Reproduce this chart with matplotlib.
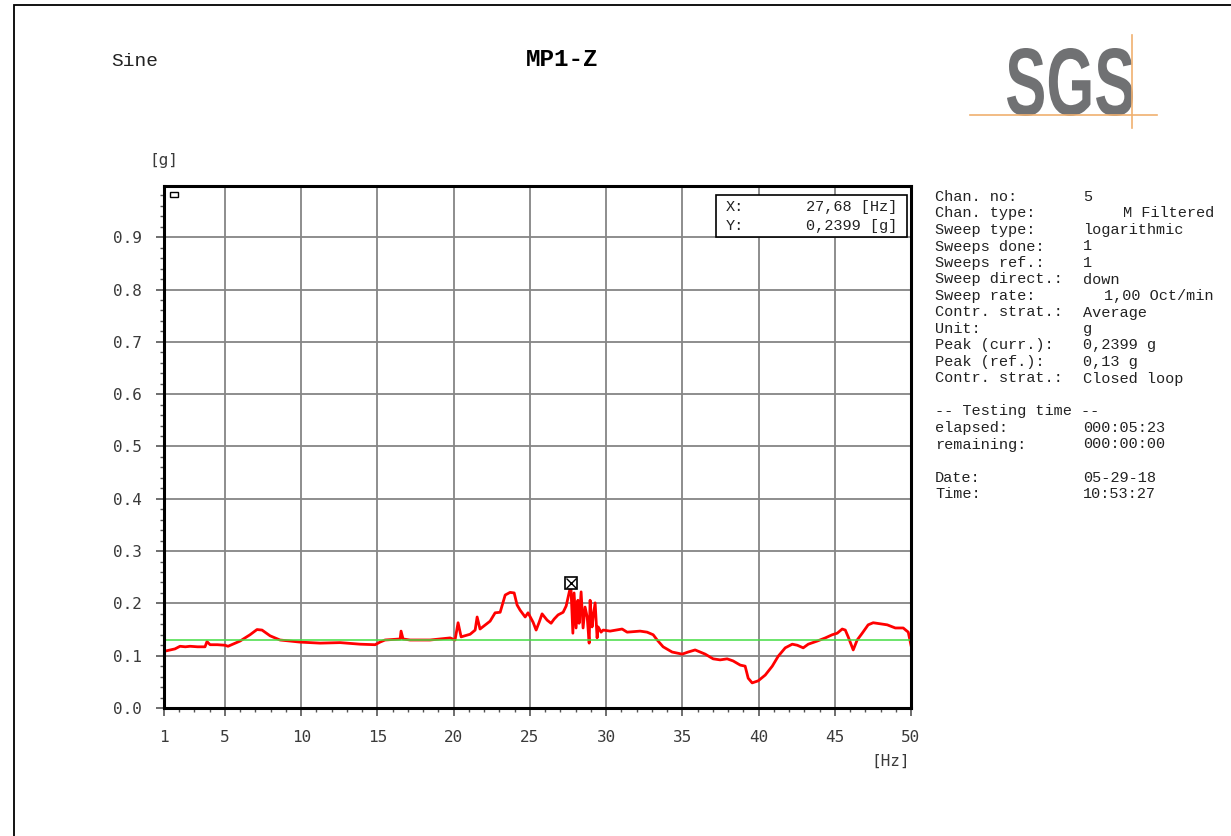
import numpy as np
import matplotlib
matplotlib.use("Agg")
import matplotlib.pyplot as plt
from matplotlib.patches import Rectangle, PathPatch
from matplotlib.textpath import TextPath
from matplotlib.font_manager import FontProperties
from matplotlib.transforms import Affine2D
from matplotlib.ticker import MultipleLocator, FixedLocator

# measured curve MP1-Z (Hz, g)
freq = [1.1, 1.26, 1.72, 2.05, 2.4, 2.71, 3.2, 3.69, 3.82, 4.02, 4.5, 5.0, 5.2, 5.6,
        5.99, 6.64, 7.1, 7.43, 7.96, 8.61, 9.92, 11.24, 12.55, 13.86, 14.85, 15.17,
        15.5, 16.49, 16.55, 16.68, 17.14, 18.45, 19.77, 20.09, 20.29, 20.49, 21.08,
        21.41, 21.54, 21.73, 22.39, 22.72, 23.05, 23.38, 23.70, 23.97, 24.16, 24.36,
        24.69, 24.88, 25.21, 25.41, 25.61, 25.80, 26.13, 26.39, 26.59, 26.85, 27.18,
        27.38, 27.64, 27.68, 27.82, 27.90, 28.03, 28.15, 28.23, 28.36, 28.49, 28.62,
        28.76, 28.89, 28.95, 29.08, 29.15, 29.28, 29.41, 29.48, 29.67, 29.81, 30.26,
        31.05, 31.38, 32.23, 32.69, 33.09, 33.35, 33.74, 34.33, 34.99, 35.38, 35.84,
        36.50, 37.02, 37.48, 37.94, 38.33, 38.80, 39.12, 39.32, 39.58, 39.98, 40.44,
        40.90, 41.29, 41.75, 42.21, 42.54, 42.93, 43.26, 43.85, 44.38, 44.83, 45.16,
        45.49, 45.69, 45.88, 46.21, 46.47, 46.80, 47.19, 47.52, 47.98, 48.44, 48.97,
        49.49, 49.82, 50.0]
accel = [0.109, 0.110, 0.113, 0.118, 0.117, 0.118, 0.117, 0.117, 0.127, 0.121, 0.121,
         0.120, 0.118, 0.123, 0.128, 0.140, 0.150, 0.149, 0.138, 0.130, 0.126, 0.124,
         0.125, 0.122, 0.121, 0.126, 0.130, 0.132, 0.147, 0.132, 0.130, 0.130, 0.134,
         0.130, 0.163, 0.136, 0.141, 0.149, 0.174, 0.151, 0.166, 0.182, 0.183, 0.216,
         0.221, 0.220, 0.197, 0.187, 0.174, 0.182, 0.164, 0.149, 0.164, 0.180, 0.168,
         0.162, 0.170, 0.178, 0.183, 0.195, 0.229, 0.2399, 0.143, 0.220, 0.153, 0.206,
         0.162, 0.222, 0.153, 0.193, 0.174, 0.124, 0.206, 0.155, 0.174, 0.201, 0.134,
         0.155, 0.145, 0.149, 0.147, 0.151, 0.145, 0.147, 0.145, 0.140, 0.130, 0.117,
         0.107, 0.103, 0.107, 0.111, 0.103, 0.094, 0.092, 0.094, 0.090, 0.082, 0.080,
         0.057, 0.048, 0.052, 0.063, 0.080, 0.099, 0.115, 0.122, 0.120, 0.115, 0.122,
         0.128, 0.134, 0.140, 0.143, 0.151, 0.149, 0.136, 0.111, 0.130, 0.143, 0.159,
         0.163, 0.161, 0.159, 0.153, 0.153, 0.145, 0.120]
ref_level = 0.13
cursor_x, cursor_y = 27.68, 0.2399

x_ticks = [1, 5, 10, 15, 20, 25, 30, 35, 40, 45, 50]
y_ticks = [0.0, 0.1, 0.2, 0.3, 0.4, 0.5, 0.6, 0.7, 0.8, 0.9]

info_labels = ["Chan. no:", "Chan. type:", "Sweep type:", "Sweeps done:", "Sweeps ref.:",
               "Sweep direct.:", "Sweep rate:", "Contr. strat.:", "Unit:", "Peak (curr.):",
               "Peak (ref.):", "Contr. strat.:", "", "-- Testing time --", "elapsed:",
               "remaining:", "", "Date:", "Time:"]
info_values = ["5", "M Filtered", "logarithmic", "1", "1", "down", "1,00 Oct/min",
               "Average", "g", "0,2399 g", "0,13 g", "Closed loop", "", "", "000:05:23",
               "000:00:00", "", "05-29-18", "10:53:27"]
right_aligned = ["M Filtered", "1,00 Oct/min"]

W, H = 1231, 836
fig = plt.figure(figsize=(W / 100, H / 100), dpi=100)
mono = "Liberation Mono"
txt_col = "#222222"

def px(x, y):
    return x / W, 1 - y / H

# outer frame
fig.patches.append(Rectangle(px(14, 900), (W + 20 - 14) / W, (900 - 5) / H,
                             transform=fig.transFigure, fill=False, ec="black", lw=1.3))

ax = fig.add_axes([164 / W, 1 - 708 / H, (911 - 164) / W, (708 - 186) / H])
ax.plot(freq, accel, color="red", lw=2)
ax.axhline(ref_level, color="#44dd44", lw=1.1)
ax.plot([cursor_x], [cursor_y], marker="s", ms=8, mfc="white", mec="black", mew=1.2)
ax.plot([cursor_x], [cursor_y], marker="x", ms=7, mec="black", mew=1)
ax.set_xlim(1, 50)
ax.set_ylim(0, 0.998)
ax.xaxis.set_major_locator(FixedLocator(x_ticks))
ax.xaxis.set_minor_locator(MultipleLocator(1))
ax.yaxis.set_major_locator(FixedLocator(y_ticks))
ax.yaxis.set_minor_locator(MultipleLocator(0.02))
ax.set_xticklabels([str(t) for t in x_ticks])
ax.set_yticklabels(["%.1f" % t for t in y_ticks])
ax.grid(True, which="major", color="#858585", lw=1.3)
ax.set_axisbelow(True)
for s in ax.spines.values():
    s.set_linewidth(2.2)
ax.tick_params(which="major", length=6, width=1.2, color="#555555", labelsize=11.5,
               labelcolor="#3a3a3a", pad=10)
ax.tick_params(which="minor", length=3, width=1, color="#555555")
for lab in ax.get_xticklabels() + ax.get_yticklabels():
    lab.set_family("DejaVu Sans Mono")

# small marker box top-left
ax.add_patch(Rectangle((0.008, 0.979), 0.0107, 0.0096, transform=ax.transAxes,
                       fill=False, ec="black", lw=1))

# cursor readout box
ax.add_patch(Rectangle((0.739, 0.902), 0.2556, 0.0808, transform=ax.transAxes,
                       fill=True, fc="white", ec="black", lw=1.2, zorder=5))
ax.text((726 - 164) / 747, (708 - 207) / 522, "X:", transform=ax.transAxes,
        family=mono, fontsize=11, color=txt_col, va="center", zorder=6)
ax.text((726 - 164) / 747, (708 - 226) / 522, "Y:", transform=ax.transAxes,
        family=mono, fontsize=11, color=txt_col, va="center", zorder=6)
ax.text((897 - 164) / 747, (708 - 207) / 522, "%s [Hz]" % "27,68", transform=ax.transAxes,
        family=mono, fontsize=11, color=txt_col, va="center", ha="right", zorder=6)
ax.text((897 - 164) / 747, (708 - 226) / 522, "%s [g]" % "0,2399", transform=ax.transAxes,
        family=mono, fontsize=11, color=txt_col, va="center", ha="right", zorder=6)

# axis units
fig.text(*px(164, 161), "[g]", family="DejaVu Sans Mono", fontsize=11.5, color="#3a3a3a",
         ha="center", va="center")
fig.text(*px(910, 761), "[Hz]", family="DejaVu Sans Mono", fontsize=11.5, color="#3a3a3a",
         ha="right", va="center")

# header
fig.text(*px(111, 61), "Sine", family=mono, fontsize=14, color=txt_col, ha="left", va="center")
fig.text(*px(562, 60), "MP1-Z", family=mono, fontsize=17.5, weight="bold",
         ha="center", va="center")

# SGS logo
tp = TextPath((0, 0), "SGS", size=100,
              prop=FontProperties(family="Liberation Sans", weight="bold"))
ext = tp.get_extents()
tr = (Affine2D().translate(-ext.x0, -ext.y0)
      .scale(126 / ext.width, 68 / ext.height)
      .translate(1007, H - 116)
      .scale(1 / W, 1 / H))
fig.patches.append(PathPatch(tr.transform_path(tp), fc="#707173", ec="none",
                             transform=fig.transFigure))
fig.lines.append(plt.Line2D([970 / W, 1157 / W], [1 - 115 / H] * 2, color="#f0b070",
                            lw=1.2, transform=fig.transFigure))
fig.lines.append(plt.Line2D([1132 / W] * 2, [1 - 35 / H, 1 - 128 / H], color="#f0b070",
                            lw=1.2, transform=fig.transFigure))

# info panel
for i, (lab, val) in enumerate(zip(info_labels, info_values)):
    y = 197 + i * 16.5
    if lab:
        fig.text(*px(935, y), lab, family=mono, fontsize=11, color=txt_col,
                 va="center", ha="left")
    if val:
        if val in right_aligned:
            fig.text(*px(1214, y), val, family=mono, fontsize=11, color=txt_col,
                     va="center", ha="right")
        else:
            fig.text(*px(1083, y), val, family=mono, fontsize=11, color=txt_col,
                     va="center", ha="left")

fig.savefig("out.png", dpi=100)
